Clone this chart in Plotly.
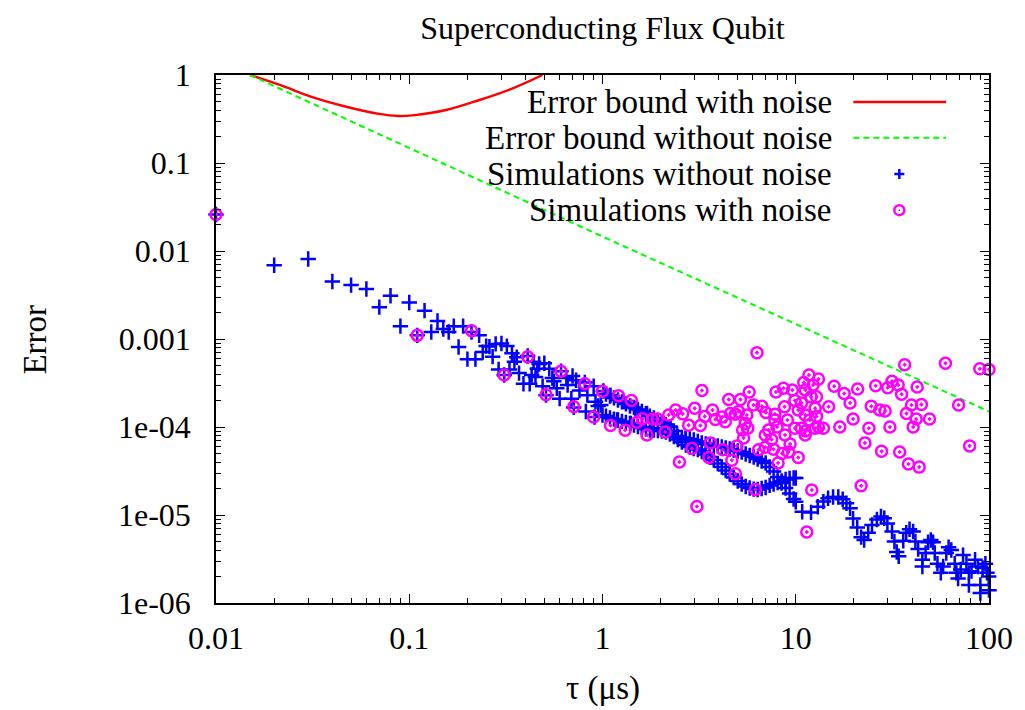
import plotly.graph_objects as go

# ---------------- data ----------------
red_tau = [0.015, 0.0214, 0.0318, 0.0472, 0.0698, 0.0873, 0.104, 0.155, 0.231, 0.343, 0.489]
red_err = [1.0, 0.77, 0.557, 0.436, 0.361, 0.342, 0.348, 0.40, 0.52, 0.705, 1.0]

green_tau = [0.015, 0.96, 100]
green_err = [1.0, 0.0152, 0.00015]

# simulations without noise: sparse part (tau < 1)
blue_tau_a = [
    0.01, 0.02, 0.03, 0.04, 0.05, 0.06, 0.07, 0.08, 0.09, 0.10,
    0.11, 0.12, 0.13, 0.14, 0.15, 0.16, 0.17, 0.18, 0.19, 0.20,
    0.21, 0.22, 0.23, 0.24, 0.25, 0.26, 0.27, 0.28, 0.29, 0.30,
    0.31, 0.32, 0.33, 0.34, 0.35, 0.36, 0.37, 0.39, 0.41, 0.42,
    0.43, 0.44, 0.45, 0.46, 0.47, 0.49, 0.50, 0.51, 0.53, 0.55,
    0.56, 0.58, 0.60, 0.61, 0.65, 0.66, 0.69, 0.70, 0.71, 0.73,
    0.76, 0.81, 0.82, 0.835, 0.90, 0.91, 0.92, 0.95, 0.98, 1.01,
    1.0, 1.10, 1.19, 1.29, 1.40, 1.48, 1.60, 1.70, 1.81, 2.08,
    2.25, 2.43, 2.69,
]
blue_err_a = [
    0.026, 0.0069, 0.0081, 0.0045, 0.0041, 0.0037, 0.0023, 0.0031, 0.0014, 0.0026,
    0.0011, 0.0021, 0.0012, 0.0016, 0.0013, 0.0012, 0.0014, 0.00081, 0.0014, 0.00059,
    0.0012, 0.00059, 0.0011, 0.00071, 0.00083, 0.00082, 0.00063, 0.00088, 0.00045, 0.00089,
    0.00039, 0.00083, 0.00045, 0.00069, 0.00055, 0.00062, 0.00041, 0.00031, 0.00064, 0.00031,
    0.00039, 0.00055, 0.00037, 0.00046, 0.00052, 0.00029, 0.00053, 0.00023, 0.00046, 0.00036,
    0.00033, 0.000275, 0.00021, 0.00043, 0.00036, 0.00030, 0.00021, 0.00038, 0.000167, 0.00034,
    0.00026, 0.00032, 0.00015, 0.00023, 0.00029, 0.00013, 0.000194, 0.000173, 0.000178, 0.000256,
    0.000137, 0.00023, 0.00012, 0.000194, 0.00011, 0.000163, 0.00010, 0.000143, 0.000097, 0.00011,
    0.00010, 0.000079, 0.000074,
]

# dense part 1 < tau < 10: the two interleaved branches
band_tau = [
    1.042, 1.093, 1.146, 1.202, 1.261, 1.322, 1.387, 1.454, 1.525, 1.599,
    1.677, 1.759, 1.845, 1.935, 2.029, 2.128, 2.231, 2.340, 2.454, 2.574,
    2.699, 2.830, 2.968, 3.113, 3.264, 3.423, 3.590, 3.765, 3.948, 4.141,
    4.342, 4.554, 4.776, 5.008, 5.252, 5.508, 5.776, 6.057, 6.353, 6.662,
    6.987, 7.327, 7.684, 8.058, 8.451, 8.862, 9.294, 9.747,
]
upper_err = [
    2.37e-4, 2.25e-4, 2.14e-4, 2.03e-4, 1.93e-4, 1.83e-4, 1.735e-4, 1.67e-4, 1.58e-4, 1.50e-4,
    1.42e-4, 1.33e-4, 1.265e-4, 1.185e-4, 1.125e-4, 1.065e-4, 1.01e-4, 9.0e-5, 7.8e-5, 7.6e-5,
    7.4e-5, 7.3e-5, 7.11e-5, 6.84e-5, 6.57e-5, 6.4e-5, 6.3e-5, 6.16e-5, 6.08e-5, 5.92e-5,
    5.77e-5, 5.62e-5, 5.48e-5, 5.34e-5, 5.2e-5, 4.93e-5, 4.75e-5, 4.56e-5, 4.33e-5, 4.1e-5,
    3.9e-5, 3.51e-5, 3.12e-5, 2.7e-5, 2.31e-5, 2.03e-5, 1.76e-5, 1.52e-5,
]
lower_err = [
    1.33e-4, 1.265e-4, 1.23e-4, 1.2e-4, 1.155e-4, 1.125e-4, 1.095e-4, 1.05e-4, 1.01e-4, 9.73e-5,
    9.48e-5, 9.24e-5, 9.24e-5, 9.1e-5, 9.0e-5, 8.77e-5, 8.32e-5, 7.8e-5, 7.2e-5, 6.75e-5,
    6.24e-5, 5.92e-5, 5.7e-5, 5.55e-5, 5.27e-5, 4.87e-5, 4.56e-5, 4.22e-5, 3.85e-5, 3.51e-5,
    3.2e-5, 2.92e-5, 2.66e-5, 2.43e-5, 2.25e-5, 2.11e-5, 2.03e-5, 1.97e-5, 1.95e-5, 2.0e-5,
    2.05e-5, 2.17e-5, 2.25e-5, 2.34e-5, 2.43e-5, 2.53e-5, 2.6e-5, 2.63e-5,
]

# 10 < tau < 100
blue_tau_c = [
    10.0, 10.0, 10.8, 12.0, 13.0, 13.9, 14.7, 15.6, 16.6, 17.5, 18.3, 19.1,
    19.8, 20.8, 21.8, 22.6, 23.7, 24.8, 26.3, 27.6, 28.7, 29.8,
    31.5, 32.4, 33.3, 34.1, 36.0, 37.3, 38.8, 40.5, 41.6, 43.0,
    45.2, 45.2, 47.0, 48.4, 50.0, 51.4, 52.4, 54.1, 56.3, 57.9,
    60.1, 61.8, 63.8, 66.5, 67.8, 69.2, 71.4, 73.4, 76.4, 78.7,
    78.7, 81.2, 84.7, 87.6, 90.2, 90.2, 92.7, 95.8, 97.6, 99.6,
    100.0,
]
blue_err_c = [
    1.41e-5, 2.63e-5, 1.09e-5, 1.07e-5, 1.24e-5, 1.42e-5, 1.55e-5, 1.6e-5, 1.6e-5, 1.51e-5, 1.36e-5, 1.19e-5,
    9.1e-6, 7.2e-6, 5.6e-6, 5.2e-6, 6.3e-6, 7.7e-6, 8.9e-6, 9.6e-6, 9.2e-6, 8.0e-6,
    6.5e-6, 5.0e-6, 3.8e-6, 3.4e-6, 5.1e-6, 6.3e-6, 6.9e-6, 6.5e-6, 5.0e-6, 4.1e-6,
    3.1e-6, 2.6e-6, 3.7e-6, 4.9e-6, 5.2e-6, 4.9e-6, 3.7e-6, 2.8e-6, 2.2e-6, 2.6e-6,
    3.7e-6, 4.3e-6, 4.0e-6, 2.8e-6, 2.2e-6, 1.9e-6, 2.4e-6, 3.5e-6, 2.8e-6, 2.2e-6,
    1.6e-6, 2.3e-6, 3.1e-6, 2.6e-6, 1.6e-6, 1.3e-6, 2.5e-6, 2.8e-6, 2.2e-6, 2.0e-6,
    1.4e-6,
]

blue_tau = blue_tau_a + band_tau + band_tau + blue_tau_c
blue_err = blue_err_a + upper_err + lower_err + blue_err_c

mag_tau = [
    0.01, 0.11, 0.21, 0.31, 0.41, 0.51, 0.61, 0.71, 0.81, 0.90,
    1.0, 1.10, 1.21, 1.31, 1.41, 1.51, 1.61, 1.70, 1.81, 1.92,
    2.11, 2.20, 2.39, 2.60, 2.79, 2.90, 3.0, 2.50, 3.08, 3.21,
    3.27, 3.38, 3.55, 3.62, 3.71, 3.84, 4.16, 4.19, 4.32, 4.50,
    4.59, 4.67, 4.87, 4.87, 4.96, 5.06, 5.17, 5.31, 5.48, 5.37,
    5.58, 5.65, 5.74, 6.05, 6.18, 6.30, 6.42, 6.68, 6.96, 6.96,
    7.0, 7.23, 7.5, 7.67, 7.8, 7.8, 7.9, 8.0, 8.1, 8.5,
    8.64, 8.75, 8.8, 9.05, 9.17, 9.35, 9.6, 9.9, 9.9, 10.3,
    10.3, 10.7, 10.7, 11.0, 11.2, 11.2, 11.2, 11.4, 11.7, 11.8,
    12.0, 12.1, 12.3, 12.6, 12.8, 12.6, 13.1, 13.1, 13.9, 14.8,
    15.8, 16.9, 17.8, 19.1, 19.8, 20.9, 21.8, 22.8, 23.9, 24.6,
    25.9, 27.2, 27.8, 29.0, 29.9, 30.7, 31.5, 33.9, 34.5, 35.3,
    36.6, 37.4, 38.3, 39.7, 40.5, 42.0, 42.5, 43.5, 44.7, 49.2,
    59.5, 69.6, 79.4, 89.6, 100.0, 12.8, 11.2,
]
mag_err = [
    0.026, 0.0011, 0.00124, 0.00039, 0.00063, 0.000233, 0.00043, 0.00017, 0.00031, 0.00013,
    0.000255, 0.000104, 0.000227, 9.2e-5, 0.0002, 0.000113, 0.000124, 8.1e-5, 0.000123, 0.000123,
    8.75e-5, 0.000137, 0.000156, 0.000141, 0.000105, 5.7e-5, 0.000163, 4.0e-5, 1.25e-5, 0.000104,
    0.00026, 0.000132, 4.5e-5, 6.6e-5, 0.000156, 0.000122, 0.00013, 5.5e-5, 0.000115, 0.000205,
    0.000142, 4.2e-5, 2.95e-5, 0.00014, 6.1e-5, 0.00015, 0.000205, 9.25e-5, 0.00011, 7.5e-5,
    0.000137, 9.7e-5, 0.00025, 0.000178, 1.95e-5, 0.0007, 5.5e-5, 0.000172, 8.1e-5, 5.9e-5,
    0.000146, 9.25e-5, 7.2e-5, 5.6e-5, 0.00014, 0.00012, 0.00025, 0.0001, 3.9e-5, 5.0e-5,
    0.000275, 0.00017, 8.1e-5, 0.00012, 5.2e-5, 6.4e-5, 0.000263, 0.0002, 9.7e-5, 0.000156,
    4.5e-5, 9.7e-5, 0.000187, 0.00032, 0.000263, 0.000137, 9.0e-5, 6.4e-6, 0.00039, 0.00012,
    0.00022, 1.92e-5, 0.0003, 0.000163, 0.00022, 9.7e-5, 0.00035, 0.0001, 9.7e-5, 0.00017,
    0.00029, 0.0001, 0.00024, 0.000187, 0.000123, 0.00027, 2.15e-5, 6.6e-5, 9.7e-5, 0.000172,
    0.000295, 0.000156, 5.3e-5, 0.000152, 0.00028, 0.0001, 0.00033, 0.0003, 5.2e-5, 0.000235,
    0.00051, 0.000142, 3.8e-5, 0.000178, 0.0001, 0.000123, 0.000285, 3.5e-5, 0.00018, 0.000123,
    0.00053, 0.000178, 6.1e-5, 0.00046, 0.00045, 0.000132, 8.1e-5,
]

x_tickvals = [0.01, 0.1, 1, 10, 100]
x_ticktext = ["0.01", "0.1", "1", "10", "100"]
y_tickvals = [1, 0.1, 0.01, 0.001, 1e-4, 1e-5, 1e-6]
y_ticktext = ["1", "0.1", "0.01", "0.001", "1e-04", "1e-05", "1e-06"]

legend_labels = ["Error bound with noise", "Error bound without noise",
                 "Simulations without noise", "Simulations with noise"]

FONT = "Liberation Serif"
RED, GREEN, BLUE, MAGENTA = "#ff0000", "#00ff00", "#0000ff", "#ff00ff"

fig = go.Figure()
fig.add_trace(go.Scatter(x=red_tau, y=red_err, mode="lines", showlegend=False,
                         line=dict(color=RED, width=2.4, shape="spline")))
fig.add_trace(go.Scatter(x=green_tau, y=green_err, mode="lines", showlegend=False,
                         line=dict(color=GREEN, width=2, dash="6px,4px")))
fig.add_trace(go.Scatter(x=blue_tau, y=blue_err, mode="markers", showlegend=False,
                         cliponaxis=False,
                         marker=dict(symbol="cross-thin", size=11, color=BLUE,
                                     line=dict(color=BLUE, width=2.5))))
fig.add_trace(go.Scatter(x=mag_tau, y=mag_err, mode="markers", showlegend=False,
                         cliponaxis=False,
                         marker=dict(symbol="circle-open-dot", size=11, color=MAGENTA,
                                     line=dict(color=MAGENTA, width=2.5))))

axis_common = dict(
    type="log", showgrid=False, zeroline=False,
    showline=True, linecolor="black", linewidth=1.5, mirror="allticks",
    ticks="inside", ticklen=9, tickwidth=1.2, tickcolor="black",
    tickfont=dict(family=FONT, size=32, color="black"),
    minor=dict(ticks="inside", ticklen=5, tickwidth=1.2, tickcolor="black",
               dtick="D1", showgrid=False),
)
fig.update_xaxes(range=[-2, 2], tickmode="array", tickvals=x_tickvals,
                 ticktext=x_ticktext, ticklabelstandoff=6, **axis_common)
fig.update_yaxes(range=[-6, 0], tickmode="array", tickvals=y_tickvals,
                 ticktext=y_ticktext, ticklabelstandoff=17, **axis_common)

# manual gnuplot-style legend (text right aligned, key at right)
row_y = [0.949, 0.881, 0.8125, 0.744]
annotations = []
for lab, yy in zip(legend_labels, row_y):
    annotations.append(dict(text=lab, x=0.80, y=yy, xref="paper", yref="paper",
                            xanchor="right", yanchor="middle", showarrow=False,
                            font=dict(family=FONT, size=33, color="black")))
annotations.append(dict(text="Error", x=-0.2335, y=0.498, xref="paper", yref="paper",
                        textangle=-90, xanchor="center", yanchor="middle", showarrow=False,
                        font=dict(family=FONT, size=33, color="black")))
annotations.append(dict(text="τ (μs)", x=0.5, y=-0.161, xref="paper", yref="paper",
                        xanchor="center", yanchor="middle", showarrow=False,
                        font=dict(family=FONT, size=33, color="black")))

shapes = [
    dict(type="line", xref="paper", yref="paper", x0=0.8245, x1=0.9445,
         y0=row_y[0], y1=row_y[0], line=dict(color=RED, width=2.4)),
    dict(type="line", xref="paper", yref="paper", x0=0.8245, x1=0.9445,
         y0=row_y[1], y1=row_y[1], line=dict(color=GREEN, width=2, dash="6px,4px")),
]
kx = 0.884
for (dx0, dy0, dx1, dy1) in [(-5, 0, 5, 0), (0, -5, 0, 5)]:
    shapes.append(dict(type="line", xref="paper", yref="paper",
                       xsizemode="pixel", ysizemode="pixel", xanchor=kx, yanchor=row_y[2],
                       x0=dx0, x1=dx1, y0=dy0, y1=dy1, line=dict(color=BLUE, width=2.5)))
shapes.append(dict(type="circle", xref="paper", yref="paper",
                   xsizemode="pixel", ysizemode="pixel", xanchor=kx, yanchor=row_y[3],
                   x0=-5, x1=5, y0=-5, y1=5, line=dict(color=MAGENTA, width=2.5)))
shapes.append(dict(type="circle", xref="paper", yref="paper",
                   xsizemode="pixel", ysizemode="pixel", xanchor=kx, yanchor=row_y[3],
                   x0=-1, x1=1, y0=-1, y1=1, fillcolor=MAGENTA, line=dict(color=MAGENTA, width=0)))

W, H = 1017, 702
fig.update_layout(
    width=W, height=H,
    margin=dict(l=208, r=34, t=67, b=107),
    paper_bgcolor="white", plot_bgcolor="white",
    title=dict(text="Superconducting Flux Qubit", x=0.5, xref="paper", xanchor="center",
               y=1 - 20 / H, yanchor="middle", yref="container",
               font=dict(family=FONT, size=32, color="black")),
    annotations=annotations, shapes=shapes, showlegend=False,
)

fig.write_html("out.html")
